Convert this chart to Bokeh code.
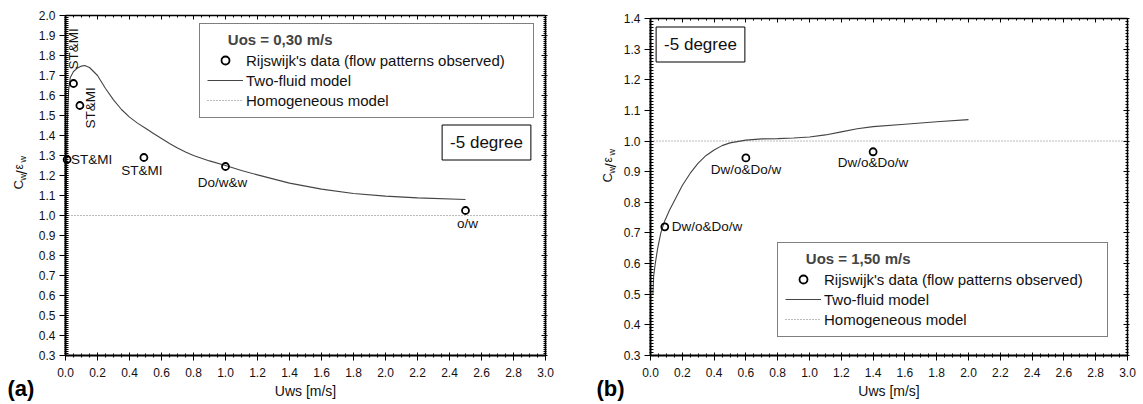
import math
from bokeh.plotting import figure
from bokeh.layouts import row
from bokeh.models import (Range1d, LinearAxis, FixedTicker, PrintfTickFormatter,
                          CustomJSTickFormatter, Legend, LegendItem, Label, ColumnDataSource)
from bokeh.core.properties import value, field
from bokeh.embed import file_html
from bokeh.resources import INLINE

FONT = "Liberation Sans"

# ---------------- data ----------------
x_ticks = [0.0, 0.2, 0.4, 0.6, 0.8, 1.0, 1.2, 1.4, 1.6, 1.8, 2.0, 2.2, 2.4, 2.6, 2.8, 3.0]
a_y_ticks = [0.3, 0.4, 0.5, 0.6, 0.7, 0.8, 0.9, 1.0, 1.1, 1.2, 1.3, 1.4, 1.5, 1.6, 1.7, 1.8, 1.9, 2.0]
b_y_ticks = [0.3, 0.4, 0.5, 0.6, 0.7, 0.8, 0.9, 1.0, 1.1, 1.2, 1.3, 1.4]

# Panel (a): Uos = 0,30 m/s
a_exp_uws = [0.01, 0.05, 0.09, 0.49, 1.0, 2.5]
a_exp_ratio = [1.28, 1.66, 1.55, 1.29, 1.245, 1.025]
a_exp_pattern = ["ST&MI", "ST&MI", "ST&MI", "ST&MI", "Do/w&w", "o/w"]
a_model_uws = [0.003, 0.006, 0.01, 0.015, 0.02, 0.03, 0.05, 0.075, 0.1, 0.12, 0.15, 0.2,
               0.25, 0.3, 0.35, 0.4, 0.45, 0.5, 0.55, 0.6, 0.65, 0.7, 0.75, 0.8, 0.9, 1.0,
               1.1, 1.2, 1.4, 1.6, 1.8, 2.0, 2.2, 2.5]
a_model_ratio = [1.0, 1.2, 1.4, 1.55, 1.63, 1.69, 1.72, 1.738, 1.747, 1.75, 1.74, 1.70,
                 1.635, 1.578, 1.53, 1.492, 1.462, 1.436, 1.41, 1.385, 1.36, 1.337, 1.317,
                 1.3, 1.273, 1.25, 1.225, 1.203, 1.162, 1.132, 1.11, 1.097, 1.088, 1.08]
a_homog_uws = [0.0, 3.0]
a_homog_ratio = [1.0, 1.0]

# Panel (b): Uos = 1,50 m/s
b_exp_uws = [0.09, 0.6, 1.4]
b_exp_ratio = [0.72, 0.945, 0.965]
b_exp_pattern = ["Dw/o&Do/w", "Dw/o&Do/w", "Dw/o&Do/w"]
b_model_uws = [0.015, 0.02, 0.03, 0.045, 0.065, 0.09, 0.12, 0.16, 0.2, 0.25, 0.3, 0.35, 0.4,
               0.45, 0.5, 0.6, 0.7, 0.8, 0.9, 1.0, 1.1, 1.2, 1.3, 1.4, 1.6, 1.8, 2.0]
b_model_ratio = [0.5, 0.56, 0.6, 0.65, 0.7, 0.74, 0.775, 0.815, 0.855, 0.895, 0.928, 0.953,
                 0.971, 0.985, 0.994, 1.003, 1.007, 1.008, 1.01, 1.013, 1.02, 1.03, 1.04,
                 1.047, 1.055, 1.063, 1.07]
b_homog_uws = [0.0, 3.0]
b_homog_ratio = [1.0, 1.0]

HEIGHT = 404


def minor_of(ticks, step):
    lo, hi = ticks[0], ticks[-1]
    n = int(round((hi - lo) / step))
    return [round(lo + i * step, 3) for i in range(n + 1)]


def style_axis(ax, mj_in, mj_out, mn_in, mn_out, lw=2, labels=True):
    ax.axis_line_color = "black"
    ax.axis_line_width = lw
    ax.major_tick_line_color = "black"
    ax.minor_tick_line_color = "black"
    ax.major_tick_line_width = 1
    ax.minor_tick_line_width = 1
    ax.major_tick_in = mj_in
    ax.major_tick_out = mj_out
    ax.minor_tick_in = mn_in
    ax.minor_tick_out = mn_out
    ax.major_label_text_font = FONT
    ax.major_label_text_font_size = "12px"
    ax.major_label_text_color = "#111111"
    if not labels:
        ax.formatter = CustomJSTickFormatter(code="return ''")
        ax.major_label_standoff = 0
        ax.major_label_text_font_size = "1px"


def build(width, ax_l, ax_r, ax_t, ax_b, y0, y1, y_ticks,
          mx, my, hx, hy, ex, ey, elab, lab_dx, lab_dy, lab_angle, lab_align, lab_base,
          legend_title, legend_box_left, legend_box_bottom, legend_lw,
          degree_px, letter, letter_px, ylab_px):
    # pixel geometry of the axes box inside this figure
    ux = (ax_r - ax_l) / 3.0
    uy = (ax_b - ax_t) / (y1 - y0)

    def to_data(lx, py):
        return ((lx - ax_l) / ux, y1 - (py - ax_t) / uy)

    p = figure(width=width, height=HEIGHT,
               x_range=Range1d(-ax_l / ux, 3.0 + (width - ax_r) / ux),
               y_range=Range1d(y0 - (HEIGHT - ax_b) / uy, y1 + ax_t / uy),
               output_backend="svg", toolbar_location=None,
               min_border=0, min_border_left=0, min_border_right=0,
               min_border_top=0, min_border_bottom=0,
               background_fill_color="white", border_fill_color="white")
    p.xgrid.visible = False
    p.ygrid.visible = False
    p.outline_line_color = None

    xt = FixedTicker(ticks=x_ticks, minor_ticks=minor_of(x_ticks, 0.05))
    yt = FixedTicker(ticks=y_ticks, minor_ticks=minor_of(y_ticks, 0.01))

    xa = p.xaxis[0]
    ya = p.yaxis[0]
    xa.ticker = xt
    ya.ticker = yt
    xa.formatter = PrintfTickFormatter(format="%.1f")
    ya.formatter = PrintfTickFormatter(format="%.1f")
    xa.fixed_location = y0
    ya.fixed_location = 0.0
    xa.bounds = (0.0, 3.0)
    ya.bounds = (y0, y1)
    style_axis(xa, 3, 5, 2, 2)
    style_axis(ya, 3, 6, 3, 1)
    xa.major_label_standoff = 7
    ya.major_label_standoff = 4
    xa.axis_label = "Uws [m/s]"
    xa.axis_label_text_font = FONT
    xa.axis_label_text_font_style = "normal"
    xa.axis_label_text_font_size = "14px"
    xa.axis_label_text_color = "#111111"
    xa.axis_label_standoff = 3

    top = LinearAxis(ticker=xt, fixed_location=y1, bounds=(0.0, 3.0))
    style_axis(top, 4, 0, 2, 0, lw=1.5, labels=False)
    p.add_layout(top, "above")
    right = LinearAxis(ticker=yt, fixed_location=3.0, bounds=(y0, y1))
    style_axis(right, 4, 2, 2, 1, lw=1.5, labels=False)
    p.add_layout(right, "right")

    homog = p.line(hx, hy, line_color="#777777", line_width=1, line_dash="1 2")
    model = p.line(mx, my, line_color="#444444", line_width=1.1)
    src = ColumnDataSource(dict(x=ex, y=ey, t=elab, dx=lab_dx, dy=lab_dy, ang=lab_angle,
                                al=lab_align, bs=lab_base))
    p.text(x="x", y="y", text="t", x_offset="dx", y_offset="dy", angle="ang",
           text_align=field("al"), text_baseline=field("bs"), source=src,
           text_font=value(FONT), text_font_size="13.5px", text_color="#111111")
    pts = p.scatter(x="x", y="y", source=src, marker="circle", size=7, fill_color=None,
                    line_color="black", line_width=1.8)

    legend = Legend(
        items=[LegendItem(label="Rijswijk's data (flow patterns observed)", renderers=[pts]),
               LegendItem(label="Two-fluid model", renderers=[model]),
               LegendItem(label="Homogeneous model", renderers=[homog])],
        title="\u00a0" * 5 + legend_title,
        location=(legend_box_left, HEIGHT - legend_box_bottom),
        padding=7, spacing=0, label_height=20, glyph_height=20, glyph_width=36,
        label_standoff=3, label_width=legend_lw, title_standoff=2,
        title_text_font=FONT, title_text_font_style="bold", title_text_font_size="15px",
        label_text_font=FONT, label_text_font_size="15px", label_text_color="#111111",
        border_line_color="black", border_line_width=1, background_fill_color="white",
        background_fill_alpha=1)
    p.add_layout(legend)

    dx_, dy_ = to_data(*degree_px)
    p.add_layout(Label(x=dx_, y=dy_, text="-5 degree", text_align="center",
                       text_baseline="middle", text_font=FONT, text_font_size="17px",
                       text_color="#111111", border_line_color="black", border_line_width=1,
                       background_fill_color="white", padding=8))

    lx, ly = to_data(*letter_px)
    p.add_layout(Label(x=lx, y=ly, text=letter, text_align="left", text_baseline="middle",
                       text_font=FONT, text_font_size="22px", text_font_style="bold",
                       text_color="black"))

    # y axis label C_w / eps_w, rotated
    bx, by = ylab_px
    pieces = [("C", 13, 0, 0), ("w", 9, 4, 9), ("/", 15, 3, 15), ("\u03b5", 12, 0, 20),
              ("w", 9, 4, 27)]
    for t, fs, xo, yo in pieces:
        px, py = to_data(bx + xo, by - yo)
        p.add_layout(Label(x=px, y=py, text=t, angle=math.pi / 2, text_align="left",
                           text_baseline="alphabetic", text_font=FONT,
                           text_font_size=f"{fs}px", text_color="#111111"))
    return p


# figure (a) occupies page x 0..560, figure (b) page x 560..1143 (local coords below)
pa = build(560, 65, 545, 15, 355, 0.3, 2.0, a_y_ticks,
           a_model_uws, a_model_ratio, a_homog_uws, a_homog_ratio,
           a_exp_uws, a_exp_ratio, a_exp_pattern,
           [4, 0, 11, -2, -3, 2], [0, -14, 23, 5, 8, 5],
           [0, math.pi / 2, math.pi / 2, 0, 0, 0],
           ["left", "left", "left", "center", "center", "center"],
           ["middle", "middle", "middle", "top", "top", "top"],
           "Uos = 0,30 m/s", 199, 118, 280,
           (486, 142), "(a)", (7, 388), (18, 189))

pb = build(583, 90, 567, 18, 355, 0.3, 1.4, b_y_ticks,
           b_model_uws, b_model_ratio, b_homog_uws, b_homog_ratio,
           b_exp_uws, b_exp_ratio, b_exp_pattern,
           [7, 0, 0], [0, 4, 3], [0, 0, 0],
           ["left", "center", "center"], ["middle", "top", "top"],
           "Uos = 1,50 m/s", 217, 337, 276,
           (140, 44), "(b)", (36, 388), (47, 182))

layout = row(pa, pb, spacing=0)
open("out.html", "w").write(file_html(layout, INLINE))
